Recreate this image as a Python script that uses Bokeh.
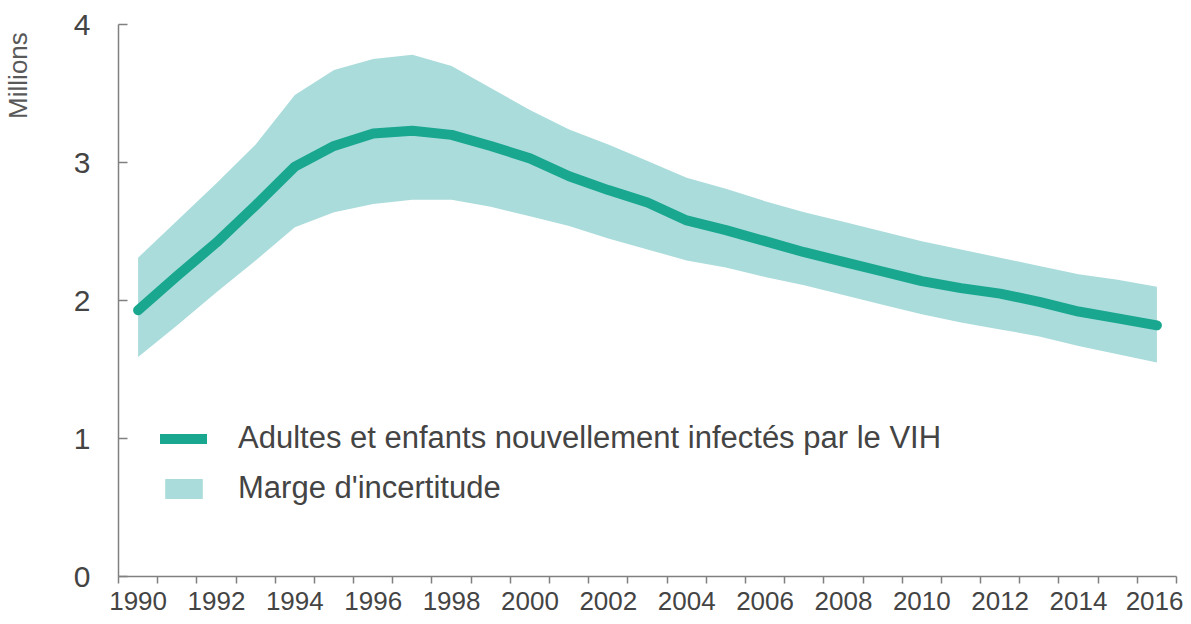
from bokeh.plotting import figure
from bokeh.models import (ColumnDataSource, FixedTicker, Range1d, Legend, LegendItem, LinearAxis)
from bokeh.embed import file_html
from bokeh.resources import INLINE

years = list(range(1990, 2017))
central = [1.93, 2.18, 2.42, 2.69, 2.97, 3.12, 3.21, 3.23, 3.20, 3.12,
           3.03, 2.90, 2.80, 2.71, 2.58, 2.51, 2.43, 2.35, 2.28, 2.21,
           2.14, 2.09, 2.05, 1.99, 1.92, 1.87, 1.82]
upper = [2.31, 2.58, 2.85, 3.13, 3.49, 3.67, 3.75, 3.78, 3.70, 3.54,
         3.38, 3.24, 3.13, 3.01, 2.89, 2.81, 2.72, 2.64, 2.57, 2.50,
         2.43, 2.37, 2.31, 2.25, 2.19, 2.15, 2.10]
lower = [1.59, 1.82, 2.06, 2.29, 2.53, 2.64, 2.70, 2.73, 2.73, 2.68,
         2.61, 2.54, 2.45, 2.37, 2.29, 2.24, 2.17, 2.11, 2.04, 1.97,
         1.90, 1.84, 1.79, 1.74, 1.67, 1.61, 1.55]
year_labels = [str(y) for y in years if y % 2 == 0]
y_ticks = [0, 1, 2, 3, 4]
line_label = "Adultes et enfants nouvellement infectés par le VIH"
band_label = "Marge d'incertitude"
y_unit = "Millions"

LINE_COLOR = "#19a78f"
BAND_COLOR = "#aadcdb"
TEXT_COLOR = "#444444"
AXIS_COLOR = "#808080"
FONT = "Liberation Sans"

src = ColumnDataSource(dict(x=years, c=central, lo=lower, hi=upper))

p = figure(width=1183, height=616, output_backend="svg", toolbar_location=None,
           x_range=Range1d(years[0] - 0.5, years[-1] + 0.5),
           y_range=Range1d(0, 4),
           min_border_left=118, min_border_right=7, min_border_top=24, min_border_bottom=40)
p.outline_line_color = None
p.xgrid.grid_line_color = None
p.ygrid.grid_line_color = None
p.background_fill_color = "white"
p.border_fill_color = "white"

band = p.varea(x="x", y1="lo", y2="hi", source=src, fill_color=BAND_COLOR, fill_alpha=1.0)
line = p.line(x="x", y="c", source=src, line_color=LINE_COLOR, line_width=10,
              line_cap="round", line_join="round")

# x axis
p.xaxis.ticker = FixedTicker(ticks=[int(s) for s in year_labels],
                             minor_ticks=[y - 0.5 for y in years] + [years[-1] + 0.5])
p.xaxis.major_label_overrides = {int(s): s for s in year_labels}
p.xaxis.major_tick_out = 0
p.xaxis.major_tick_in = 0
p.xaxis.minor_tick_out = 7
p.xaxis.minor_tick_in = 0
p.xaxis.minor_tick_line_color = AXIS_COLOR
p.xaxis.minor_tick_line_width = 1.5
p.xaxis.axis_line_color = AXIS_COLOR
p.xaxis.axis_line_width = 1.5
p.xaxis.major_label_text_font = FONT
p.xaxis.major_label_text_font_size = "26px"
p.xaxis.major_label_text_color = TEXT_COLOR
p.xaxis.major_label_standoff = 8

# y axis
p.yaxis.ticker = FixedTicker(ticks=y_ticks)
p.yaxis.major_tick_in = 9
p.yaxis.major_tick_out = 0
p.yaxis.minor_tick_line_color = None
p.yaxis.major_tick_line_color = AXIS_COLOR
p.yaxis.major_tick_line_width = 1.5
p.yaxis.axis_line_color = AXIS_COLOR
p.yaxis.axis_line_width = 1.5
p.yaxis.major_label_text_font = FONT
p.yaxis.major_label_text_font_size = "30px"
p.yaxis.major_label_text_color = TEXT_COLOR
p.yaxis.major_label_standoff = 28

# unit label "Millions" drawn as a single rotated tick label on an outer left axis
unit_pos = 3.63
unit_axis = LinearAxis(ticker=FixedTicker(ticks=[unit_pos]),
                       major_label_overrides={unit_pos: y_unit},
                       major_label_orientation="vertical",
                       axis_line_color=None, major_tick_line_color=None,
                       minor_tick_line_color=None, major_label_standoff=31,
                       major_label_text_font=FONT, major_label_text_font_size="26px",
                       major_label_text_color="#595959")
p.add_layout(unit_axis, "left")

legend = Legend(items=[LegendItem(label=line_label, renderers=[line]),
                       LegendItem(label=band_label, renderers=[band])],
                location=(42, 70), orientation="vertical",
                glyph_width=47, glyph_height=25, label_height=25,
                label_standoff=31, spacing=14, padding=0, margin=0,
                border_line_color=None, background_fill_alpha=0,
                label_text_font=FONT, label_text_font_size="31px",
                label_text_color=TEXT_COLOR)
p.add_layout(legend, "center")

open("out.html", "w").write(file_html(p, INLINE))
